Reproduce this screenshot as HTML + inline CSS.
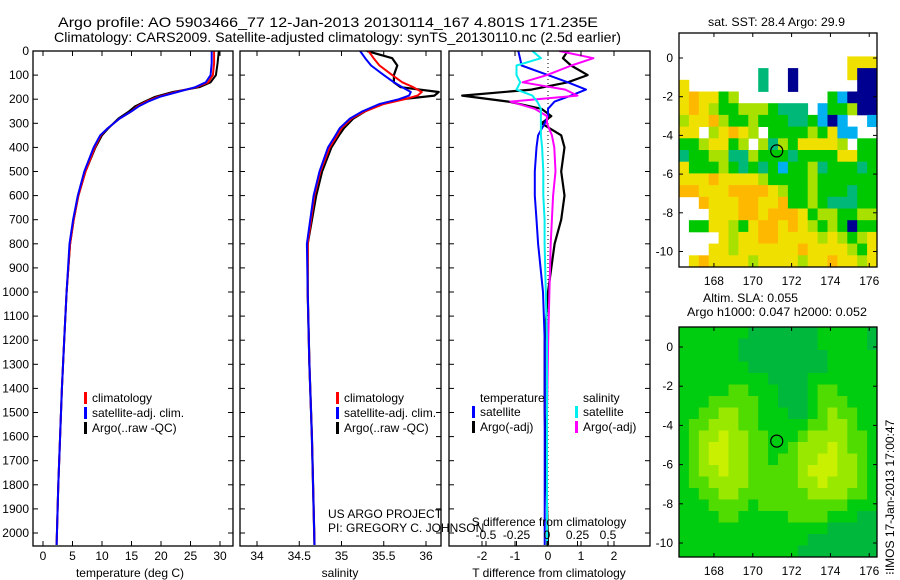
<!DOCTYPE html>
<html><head><meta charset="utf-8"><style>
html,body{margin:0;padding:0;background:#fff;}
svg{display:block;font-family:"Liberation Sans",sans-serif;}
text{font-size:12px;fill:#000;}
</style></head><body>
<svg id="c" width="900" height="580" viewBox="0 0 900 580">
<text x="58" y="27" textLength="540" lengthAdjust="spacingAndGlyphs" style="font-size:14px">Argo profile: AO 5903466_77 12-Jan-2013 20130114_167 4.801S 171.235E</text>
<text x="54" y="42" textLength="567" lengthAdjust="spacingAndGlyphs" style="font-size:14px">Climatology: CARS2009. Satellite-adjusted climatology: synTS_20130110.nc (2.5d earlier)</text>
<text x="708" y="26" textLength="137" lengthAdjust="spacingAndGlyphs">sat. SST: 28.4  Argo: 29.9</text>
<text x="703" y="302" textLength="95" lengthAdjust="spacingAndGlyphs">Altim. SLA: 0.055</text>
<text x="687" y="316" textLength="180" lengthAdjust="spacingAndGlyphs">Argo h1000: 0.047 h2000: 0.052</text>
<text transform="translate(894,575) rotate(-90)">⁝IMOS 17-Jan-2013 17:00:47</text>
<text x="328" y="518">US ARGO PROJECT</text>
<text x="328" y="532">PI: GREGORY C. JOHNSON</text>
</svg>
<script>
const NS='http://www.w3.org/2000/svg';
const svg=document.getElementById('c');
function mk(tag,attrs,parent){const e=document.createElementNS(NS,tag);for(const k in attrs)e.setAttribute(k,attrs[k]);(parent||svg).appendChild(e);return e;}
// ---- data ----
const depthTicks=[0,100,200,300,400,500,600,700,800,900,1000,1100,1200,1300,1400,1500,1600,1700,1800,1900,2000];
const tTicks=[0,5,10,15,20,25,30];
const sTicks=[34,34.5,35,35.5,36];
const dTTicks=[-2,-1,0,1,2];
const dSTicks=[-0.5,-0.25,0,0.25,0.5];
const tDepth=[0,50,100,130,150,170,190,210,230,250,280,320,350,400,500,600,700,800,1000,1200,1400,1600,1800,2050];
const tClim=[29.0,29.0,28.8,28.0,26.0,22.5,19.5,17.5,16.0,15.0,13.0,11.0,9.8,8.8,7.2,6.0,5.2,4.6,4.0,3.6,3.2,2.9,2.6,2.3];
const tSat=[28.6,28.6,28.4,27.6,25.8,22.8,19.8,17.8,16.2,15.0,13.0,11.0,9.7,8.6,7.0,5.9,5.1,4.5,4.0,3.6,3.2,2.9,2.6,2.3];
const tArgo=[29.8,29.6,29.3,28.4,26.5,22.0,19.0,17.2,15.6,14.6,12.8,11.1,10.0,8.9,7.2,6.0,5.2,4.6,4.0,3.6,3.2,2.9,2.6,2.3];
const sDepth=[0,30,60,100,130,150,170,185,200,220,250,280,320,350,400,500,600,800,1000,1300,1600,2050];
const sClim=[35.32,35.38,35.45,35.6,35.72,35.85,35.95,35.9,35.75,35.5,35.28,35.12,35.0,34.95,34.86,34.75,34.68,34.6,34.6,34.62,34.65,34.68];
const sSat=[35.22,35.28,35.35,35.5,35.62,35.72,35.82,35.8,35.68,35.45,35.25,35.1,34.98,34.93,34.84,34.74,34.67,34.59,34.6,34.62,34.65,34.68];
const sArgo=[35.3,35.6,35.66,35.62,35.62,35.7,36.15,36.1,35.72,35.48,35.28,35.14,35.03,34.97,34.88,34.77,34.7,34.6,34.6,34.62,34.65,34.68];
const dDepth=[0,30,60,100,130,160,185,210,240,270,300,350,400,500,600,700,800,1000,1200,1500,2050];
const dTsat=[-0.9,-0.85,-0.8,0.0,0.6,1.15,0.7,0.2,0.0,0.0,-0.1,-0.3,-0.35,-0.4,-0.4,-0.35,-0.3,-0.15,-0.1,-0.1,-0.1];
const dTargo=[0.6,0.45,0.7,1.2,0.6,-0.5,-2.6,-1.2,-0.2,0.1,-0.2,0.4,0.5,0.4,0.5,0.4,0.2,0.0,-0.1,-0.1,0.0];
const dSsat=[-0.12,-0.05,-0.25,-0.25,-0.22,-0.25,-0.12,-0.08,-0.05,-0.05,-0.05,-0.05,-0.04,-0.03,-0.03,-0.02,-0.02,-0.01,0,0,0];
const dSargo=[0.1,0.38,0.2,0.0,-0.2,0.15,0.25,-0.3,-0.1,0.0,0.0,0.04,0.06,0.07,0.05,0.04,0.03,0.02,0.01,0,0];
const mapLonTicks=[168,170,172,174,176];
const mapLatTicks=[0,-2,-4,-6,-8,-10];
const sstGrid=["wwwwwwwwwwwwwwwwwwww","wwwwwwwwwwwwwwwwwwww","wwwwwwwwwwwwwwwwwyyy","wwwwwwwwtwwbwwwwwybb","ywwwwwwwtwwbwwwwwwbb","yoyyglwwwwwwwwwgcbbb","yoylgglllgtttwcgglbb","lyyolgglgggttgcbcwwc","yywlyoylwgggglgyccww","gglyyglwltlgyyyylwgg","tggllttlgggtggggyygg","yggglgtgtgcggltgggtg","yyyoyyyylgggglgggggg","ooyyyooooylgglgggtgg","wwoyyyooyyogglgtttgg","wwwyyyooyoooygllggll","wggyylgyooyoylglgbgg","wwwwylyyooyyyylylgly","wwwyylyyyyyyoyyyylgy","wyoyyyylyyyylyyoyyly"];
const slaGrid=["gggggggdddddddgggggd","ggggggddddddddgggggd","ggggggdddddddddggggg","gggggggddddddddggggg","gggggggggddddggggggg","gggggmmgggdddgmmgggg","gggmmmmmggdddgmmmggg","ggmmllmmgggddgmlmmgg","gmmlllmmgggggmmllmgg","gmllyllmmgggmllllmmg","gmlyyllmmggmlllylmmg","gmlyyllmmgmmllyyllmg","gmllyllmmmmmlyyyllmg","gmmllllmmmmmllylllmg","ggmmllmmmmmmmllllmmg","gggmmmmgmmmmmmmmmggg","ggggmmgggggmmmmgggdd","gggggggggggggggddddd","gggggggggggggddddddd","ggggggggggggdddddddd"];
const argoLon=171.235, argoLat=-4.801;
// ---- scales ----
const TOP=51,BOT=546;
const yD=d=>51+d*0.241;
const xT=v=>43+v*5.9;
const xS=v=>257+(v-34)*84.5;
const xDT=v=>548+v*33;
const xDS=v=>547+v*122;
function frame(x0,x1,name){mk('rect',{x:x0,y:TOP,width:x1-x0,height:BOT-TOP,fill:'none',stroke:'#000','stroke-width':1.3,});}
function depthTicksFor(x0,x1,labels){
  depthTicks.forEach(d=>{const y=yD(d);
    const t1=mk('line',{x1:x0,y1:y,x2:x0+5,y2:y,stroke:'#000'});
    const t2=mk('line',{x1:x1-5,y1:y,x2:x1,y2:y,stroke:'#000'});
    if(labels){const t=mk('text',{x:x0-4,y:y+4,'text-anchor':'end'});t.textContent=d;}
  });
}
function xTicks(vals,fx,y0,y1,labY,top){
  vals.forEach(v=>{const x=fx(v);
    const a=mk('line',{x1:x,y1:y1-5,x2:x,y2:y1,stroke:'#000'});
    if(top){const b=mk('line',{x1:x,y1:y0,x2:x,y2:y0+5,stroke:'#000'});}
    const t=mk('text',{x:x,y:labY,'text-anchor':'middle'});t.textContent=v;
  });
}
function line(vals,depths,fx,color,w,name,clip){
  const pts=vals.map((v,i)=>fx(v).toFixed(1)+','+yD(depths[i]).toFixed(1)).join(' ');
  const p=mk('polyline',{points:pts,fill:'none',stroke:color,'stroke-width':w,'stroke-linejoin':'round','clip-path':clip});
  
}
function clipRect(id,x0,x1){const cp=mk('clipPath',{id:id});mk('rect',{x:x0,y:TOP,width:x1-x0,height:BOT-TOP},cp);return 'url(#'+id+')';}
function legend(x,y,items,name){
  items.forEach((it,i)=>{const yy=y+i*15;
    const b=mk('rect',{x:x,y:yy-10,width:3,height:12,fill:it[1]});
    const t=mk('text',{x:x+8,y:yy});t.textContent=it[0];
  });
}
// Panel 1
const c1=clipRect('cp1',33,233);
line(tArgo,tDepth,xT,'#000',2,'temp-argo-line',c1);
line(tClim,tDepth,xT,'#f00',2,'temp-clim-line',c1);
line(tSat,tDepth,xT,'#00f',2,'temp-sat-line',c1);
frame(33,233,'temperature-panel');depthTicksFor(33,233,true);
xTicks(tTicks,xT,TOP,BOT,560,true);
let t=mk('text',{x:130,y:577,'text-anchor':'middle'});t.textContent='temperature (deg C)';
legend(84,402,[['climatology','#f00'],['satellite-adj. clim.','#00f'],['Argo(..raw -QC)','#000']],'temp-legend');
// Panel 2
const c2=clipRect('cp2',240,441);
line(sArgo,sDepth,xS,'#000',2.2,'sal-argo-line',c2);
line(sClim,sDepth,xS,'#f00',2,'sal-clim-line',c2);
line(sSat,sDepth,xS,'#00f',2,'sal-sat-line',c2);
frame(240,441,'salinity-panel');depthTicksFor(240,441,false);
xTicks(sTicks,xS,TOP,BOT,560,true);
t=mk('text',{x:340,y:577,'text-anchor':'middle'});t.textContent='salinity';
legend(336,402,[['climatology','#f00'],['satellite-adj. clim.','#00f'],['Argo(..raw -QC)','#000']],'sal-legend');
// Panel 3
const c3=clipRect('cp3',449,650);
mk('line',{x1:548,y1:TOP,x2:548,y2:BOT,stroke:'#000','stroke-dasharray':'1,3',});
line(dTargo,dDepth,xDT,'#000',2.2,'dtemp-argo-line',c3);
line(dTsat,dDepth,xDT,'#00f',2,'dtemp-sat-line',c3);
line(dSargo,dDepth,xDS,'#f0f',2,'dsal-argo-line',c3);
line(dSsat,dDepth,xDS,'#0ee',2,'dsal-sat-line',c3);
frame(449,650,'difference-panel');depthTicksFor(449,650,false);
xTicks(dTTicks,xDT,TOP,BOT,560,true);
dSTicks.forEach(v=>{const x=xDS(v);const a=mk('line',{x1:x,y1:BOT-5,x2:x,y2:BOT,stroke:'#000'});
 const tt=mk('text',{x:x,y:539,'text-anchor':'middle'});tt.textContent=v;});
t=mk('text',{x:549,y:526,'text-anchor':'middle'});t.textContent='S difference from climatology';
t=mk('text',{x:549,y:577,'text-anchor':'middle'});t.textContent='T difference from climatology';
t=mk('text',{x:480,y:402});t.textContent='temperature';
t=mk('text',{x:583,y:402});t.textContent='salinity';
legend(472,416,[['satellite','#00f'],['Argo(-adj)','#000']],'dtemp-legend');
legend(575,416,[['satellite','#0ee'],['Argo(-adj)','#f0f']],'dsal-legend');
// ---- maps ----
const LON0=166.2,LON1=176.4;
function drawMap(grid,colors,x0,x1,y0,y1,lat0px,pxLat,labY,name){
  const pxLon=(x1-x0)/(LON1-LON0);
  const lonX=l=>x0+(l-LON0)*pxLon;
  const latY=l=>lat0px-l*pxLat;
  const rows=grid.length,cols=grid[0].length;
  const cw=(x1-x0)/cols,ch=(y1-y0)/rows;
  grid.forEach((row,r)=>{for(let c=0;c<cols;c++){const col=colors[row[c]]||'#fff';if(col==='#fff')continue;
    const e=mk('rect',{x:(x0+c*cw).toFixed(2),y:(y0+r*ch).toFixed(2),width:(cw+0.4).toFixed(2),height:(ch+0.4).toFixed(2),fill:col});
    }});
  mk('rect',{x:x0,y:y0,width:x1-x0,height:y1-y0,fill:'none',stroke:'#000','stroke-width':1.3,});
  mapLonTicks.forEach(l=>{const x=lonX(l);const a=mk('line',{x1:x,y1:y1-4,x2:x,y2:y1,stroke:'#000'});
    const b=mk('line',{x1:x,y1:y0,x2:x,y2:y0+4,stroke:'#000'});
    const tt=mk('text',{x:x,y:labY,'text-anchor':'middle'});tt.textContent=l;});
  mapLatTicks.forEach(l=>{const y=latY(l);const a=mk('line',{x1:x0,y1:y,x2:x0+4,y2:y,stroke:'#000'});
    const b=mk('line',{x1:x1-4,y1:y,x2:x1,y2:y,stroke:'#000'});
    const tt=mk('text',{x:x0-6,y:y+4,'text-anchor':'end'});tt.textContent=l;});
  const m=mk('circle',{cx:lonX(argoLon),cy:latY(argoLat),r:6,fill:'none',stroke:'#000','stroke-width':1.2});
  
}
drawMap(sstGrid,{w:'#fff',y:'#f0e000',o:'#ffb800',g:'#00c800',l:'#a8e000',t:'#00b878',b:'#000090',c:'#00b0f0'},679,877,33,267,58,19.35,285,'sst-map');
drawMap(slaGrid,{d:'#00b83c',g:'#00cc10',m:'#50dc00',l:'#98e800',y:'#c8f000'},679,877,327,557,347,19.6,575,'sla-map');
</script>
</body></html>
